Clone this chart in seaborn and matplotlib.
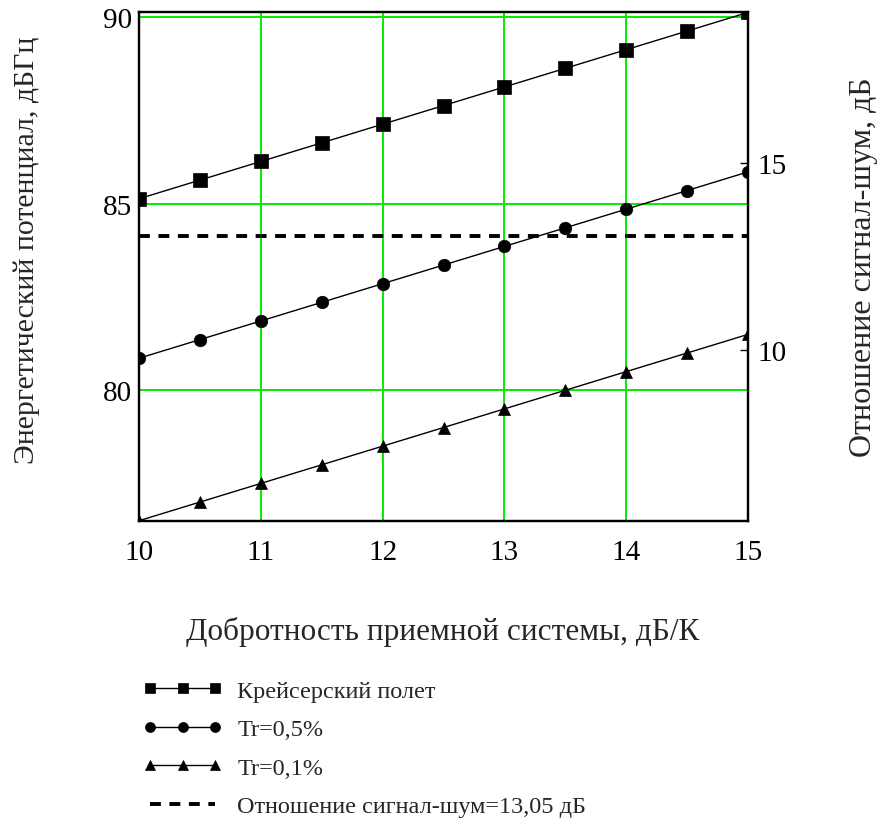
import numpy as np
import pandas as pd
import matplotlib.pyplot as plt
import seaborn as sns

# добротность приемной системы G/T, дБ/К
g_t = [10, 10.5, 11, 11.5, 12, 12.5, 13, 13.5, 14, 14.5, 15]

# энергетический потенциал, дБГц
cruise = [85.13, 85.63, 86.13, 86.63, 87.13, 87.63, 88.13, 88.63, 89.13, 89.63, 90.13]
tr_05 = [80.85, 81.35, 81.85, 82.35, 82.85, 83.35, 83.85, 84.35, 84.85, 85.35, 85.85]
tr_01 = [76.49, 76.99, 77.49, 77.99, 78.49, 78.99, 79.49, 79.99, 80.49, 80.99, 81.49]

snr_level = 13.05  # отношение сигнал-шум, дБ

x_ticks = [10, 11, 12, 13, 14, 15]
left_ticks = [80, 85, 90]
right_ticks = [10, 15]

sns.set_style("white")
plt.rcParams['font.family'] = ['Liberation Serif', 'DejaVu Serif']

fig = plt.figure(figsize=(8.8, 8.29), dpi=100)
ax = fig.add_axes([0.158, 0.3707, 0.692, 0.6133])

green = '#00ee00'
ax.grid(True, color=green, linewidth=1.4)
ax.set_axisbelow(True)

series = [
    (cruise, 's', 9.5, 'Крейсерский полет'),
    (tr_05, 'o', 9, 'Tr=0,5%'),
    (tr_01, '^', 9, 'Tr=0,1%'),
]
for vals, mk, ms, lab in series:
    sns.lineplot(x=g_t, y=vals, ax=ax, color='black', linewidth=1.0,
                 marker=mk, markersize=ms, markeredgecolor='black',
                 markeredgewidth=0.5, label=lab)
if ax.get_legend() is not None:
    ax.get_legend().remove()

ax.set_xlim(10, 15)
ax.set_ylim(76.49, 90.134)
ax.set_xticks(x_ticks)
ax.set_yticks(left_ticks)
ax.tick_params(axis='both', length=0, labelsize=21, colors='black')
ax.tick_params(axis='x', pad=13)
ax.tick_params(axis='y', pad=5)

# правая ось: отношение сигнал-шум
ax2 = ax.twinx()
offset = 71.08
sns.lineplot(x=[g_t[0], g_t[-1]], y=[snr_level, snr_level], ax=ax2,
             color='black', linewidth=2.8, dashes=False,
             label='Отношение сигнал-шум=13,05 дБ')
ax2.lines[-1].set_dashes((2.8, 2.2))
if ax2.get_legend() is not None:
    ax2.get_legend().remove()
ax2.set_ylim(76.49 - offset, 90.134 - offset)
ax2.set_yticks(right_ticks)
ax2.grid(False)
ax2.tick_params(axis='y', direction='in', length=6, width=1, labelsize=21,
                pad=7, colors='black')

for a in (ax, ax2):
    for sp in a.spines.values():
        sp.set_color('black')
        sp.set_linewidth(1.6)

ax.set_xlabel('Добротность приемной системы, дБ/К', fontsize=22.5, va='center')
ax.xaxis.set_label_coords(0.498, -0.217)
ax.set_ylabel('Энергетический потенциал, дБГц', fontsize=21.5, va='center')
ax.yaxis.set_label_coords(-0.184, 0.534)
ax2.set_ylabel('Отношение сигнал-шум, дБ', fontsize=23, va='center')
ax2.yaxis.set_label_coords(1.189, 0.5)

handles = ax.get_lines()[:3] + [ax2.get_lines()[-1]]
labels = [s[3] for s in series] + ['Отношение сигнал-шум=13,05 дБ']
fig.legend(handles, labels, loc='upper left', bbox_to_anchor=(0.162, 0.179),
           frameon=False, fontsize=17.5, numpoints=3, markerscale=0.8,
           handlelength=3.3, handletextpad=0.6, labelspacing=0.68,
           borderpad=0, borderaxespad=0)

fig.savefig('out.png', dpi=100)
